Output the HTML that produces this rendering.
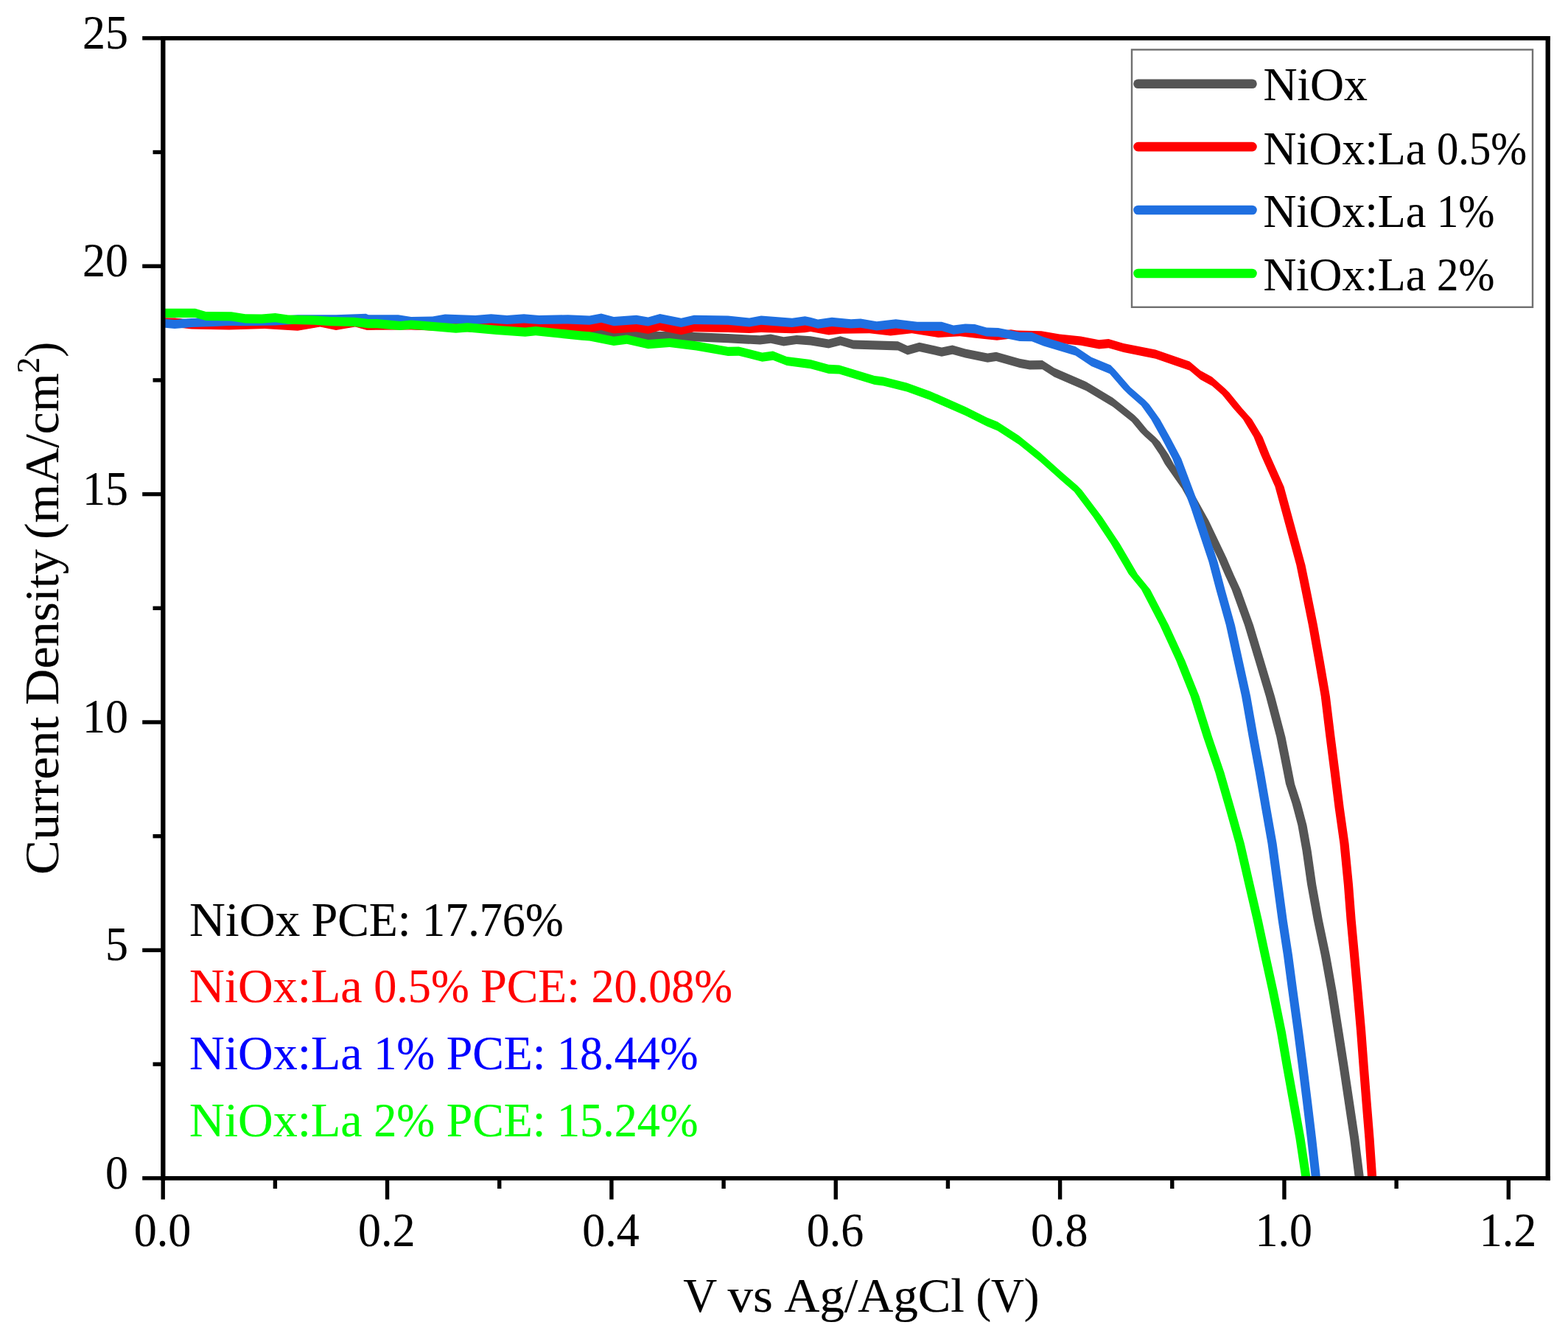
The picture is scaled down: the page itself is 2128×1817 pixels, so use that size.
<!DOCTYPE html>
<html lang="en"><head><meta charset="utf-8"><title>J-V curves</title>
<style>html,body{margin:0;padding:0;background:#fff;overflow:hidden}svg{display:block;filter:blur(0.6px)}</style></head>
<body>
<svg width="2128" height="1817" viewBox="0 0 2128 1817" style="display:block">
<rect x="0" y="0" width="2128" height="1817" fill="#ffffff"/>
<clipPath id="pc"><rect x="221.3" y="51.8" width="1879.3999999999999" height="1547.0"/></clipPath>
<g clip-path="url(#pc)" stroke="none" fill-rule="nonzero">
<path d="M215.0 431.4 L221.2 431.4 L237.5 431.5 L260.0 433.7 L311.0 434.4 L359.0 433.1 L404.0 435.7 L434.4 430.9 L456.0 434.9 L482.0 430.9 L498.0 434.9 L511.6 434.9 L558.0 434.9 L600.0 436.7 L645.0 438.4 L700.0 440.9 L800.0 445.9 L863.7 449.5 L924.5 450.2 L988.0 453.1 L1031.6 455.3 L1046.0 453.5 L1063.5 457.2 L1081.0 454.9 L1100.0 456.3 L1124.6 460.4 L1140.5 456.3 L1158.0 461.4 L1218.7 463.3 L1231.7 469.3 L1247.7 464.7 L1278.0 471.5 L1292.6 468.6 L1310.0 473.4 L1340.3 479.5 L1352.0 477.7 L1383.8 486.7 L1397.4 489.3 L1414.7 489.1 L1430.7 499.2 L1474.0 518.0 L1510.3 539.7 L1539.3 562.9 L1539.3 575.1 L1510.3 551.9 L1474.0 530.2 L1430.7 511.4 L1414.7 501.3 L1397.4 501.5 L1383.8 498.9 L1352.0 489.9 L1340.3 491.7 L1310.0 485.6 L1292.6 480.8 L1278.0 483.7 L1247.7 476.9 L1231.7 481.5 L1218.7 475.5 L1158.0 473.6 L1140.5 468.5 L1124.6 472.6 L1100.0 468.5 L1081.0 467.1 L1063.5 469.4 L1046.0 465.7 L1031.6 467.5 L988.0 465.3 L924.5 462.4 L863.7 461.7 L800.0 458.1 L700.0 453.1 L645.0 450.6 L600.0 448.9 L558.0 447.1 L511.6 447.1 L498.0 447.1 L482.0 443.1 L456.0 447.1 L434.4 443.1 L404.0 447.9 L359.0 445.3 L311.0 446.6 L260.0 445.9 L237.5 443.7 L221.2 443.6 L215.0 443.6Z M1539.3 562.9 L1545.4 569.0 L1539.3 575.1 L1533.2 569.0Z M1545.4 569.0 L1559.8 586.4 L1547.6 586.4 L1533.2 569.0Z M1553.7 580.3 L1559.8 586.4 L1553.7 592.5 L1547.6 586.4Z M1553.7 580.3 L1568.2 593.3 L1568.2 605.5 L1553.7 592.5Z M1568.2 593.3 L1574.3 599.4 L1568.2 605.5 L1562.1 599.4Z M1574.3 599.4 L1585.9 616.8 L1593.1 630.0 L1616.3 663.0 L1640.5 706.5 L1664.6 757.1 L1674.5 780.0 L1683.7 800.0 L1701.1 848.3 L1715.6 896.5 L1730.0 944.8 L1744.5 1000.0 L1750.3 1029.0 L1757.1 1063.7 L1765.8 1090.7 L1773.5 1119.7 L1779.7 1154.4 L1786.2 1200.0 L1794.9 1248.3 L1805.0 1296.5 L1813.7 1344.8 L1822.4 1400.0 L1829.9 1448.3 L1837.1 1496.5 L1844.3 1544.8 L1850.7 1596.0 L1851.9 1606.0 L1839.8 1606.0 L1838.5 1596.0 L1832.1 1544.8 L1824.9 1496.5 L1817.7 1448.3 L1810.2 1400.0 L1801.5 1344.8 L1792.8 1296.5 L1782.7 1248.3 L1774.0 1200.0 L1767.5 1154.4 L1761.3 1119.7 L1753.6 1090.7 L1744.9 1063.7 L1738.1 1029.0 L1732.3 1000.0 L1717.8 944.8 L1703.4 896.5 L1688.9 848.3 L1671.5 800.0 L1662.3 780.0 L1652.4 757.1 L1628.3 706.5 L1604.1 663.0 L1580.9 630.0 L1573.7 616.8 L1562.1 599.4Z" fill="#555555"/>
<path d="M215.0 431.5 L221.2 431.5 L237.5 431.7 L260.0 434.4 L311.0 435.2 L359.0 433.7 L404.0 436.6 L434.4 431.4 L456.0 435.9 L482.0 431.4 L498.0 435.9 L511.6 435.5 L558.0 435.2 L600.0 436.9 L645.0 438.2 L666.5 436.5 L688.0 438.2 L711.0 436.5 L731.6 438.2 L770.7 437.5 L800.0 438.8 L816.0 435.9 L833.0 440.3 L863.7 438.1 L879.6 440.7 L895.6 436.4 L924.5 442.1 L941.9 438.1 L988.0 438.8 L1017.0 439.9 L1033.0 438.8 L1075.0 440.1 L1092.5 439.1 L1100.0 437.9 L1124.6 442.3 L1143.0 440.5 L1180.0 440.1 L1208.6 443.4 L1237.5 440.1 L1273.7 445.9 L1302.7 444.0 L1324.0 446.6 L1353.0 449.5 L1372.0 447.3 L1380.0 448.5 L1413.3 449.2 L1438.0 453.6 L1466.9 456.5 L1491.5 461.3 L1504.5 460.1 L1524.8 465.9 L1568.2 474.6 L1614.5 490.5 L1629.0 502.8 L1645.0 511.5 L1662.3 526.7 L1662.3 538.9 L1645.0 523.7 L1629.0 515.0 L1614.5 502.7 L1568.2 486.8 L1524.8 478.1 L1504.5 472.3 L1491.5 473.5 L1466.9 468.7 L1438.0 465.8 L1413.3 461.4 L1380.0 460.7 L1372.0 459.5 L1353.0 461.7 L1324.0 458.8 L1302.7 456.2 L1273.7 458.1 L1237.5 452.3 L1208.6 455.6 L1180.0 452.3 L1143.0 452.7 L1124.6 454.5 L1100.0 450.1 L1092.5 451.3 L1075.0 452.3 L1033.0 451.0 L1017.0 452.1 L988.0 451.0 L941.9 450.3 L924.5 454.3 L895.6 448.6 L879.6 452.9 L863.7 450.3 L833.0 452.5 L816.0 448.1 L800.0 451.0 L770.7 449.7 L731.6 450.4 L711.0 448.7 L688.0 450.4 L666.5 448.7 L645.0 450.4 L600.0 449.1 L558.0 447.4 L511.6 447.7 L498.0 448.1 L482.0 443.6 L456.0 448.1 L434.4 443.6 L404.0 448.8 L359.0 445.9 L311.0 447.4 L260.0 446.6 L237.5 443.9 L221.2 443.7 L215.0 443.7Z M1662.3 526.7 L1668.4 532.8 L1662.3 538.9 L1656.2 532.8Z M1668.4 532.8 L1686.1 554.5 L1699.1 569.0 L1713.6 593.0 L1723.3 617.2 L1742.6 660.6 L1757.1 713.7 L1771.5 766.8 L1778.3 800.0 L1788.0 848.3 L1796.6 896.5 L1804.9 944.8 L1811.6 1000.0 L1817.8 1048.3 L1823.8 1096.5 L1830.6 1144.8 L1836.0 1200.0 L1839.7 1248.3 L1844.2 1296.5 L1848.5 1344.8 L1853.3 1400.0 L1856.9 1448.3 L1860.7 1496.5 L1864.6 1544.8 L1868.1 1596.0 L1868.8 1606.0 L1856.6 1606.0 L1855.9 1596.0 L1852.4 1544.8 L1848.5 1496.5 L1844.7 1448.3 L1841.1 1400.0 L1836.3 1344.8 L1832.0 1296.5 L1827.5 1248.3 L1823.8 1200.0 L1818.4 1144.8 L1811.6 1096.5 L1805.6 1048.3 L1799.4 1000.0 L1792.7 944.8 L1784.4 896.5 L1775.8 848.3 L1766.1 800.0 L1759.3 766.8 L1744.9 713.7 L1730.4 660.6 L1711.1 617.2 L1701.4 593.0 L1686.9 569.0 L1673.9 554.5 L1656.2 532.8Z" fill="#ff0000"/>
<path d="M215.0 432.4 L221.2 432.4 L237.0 433.9 L260.0 431.9 L290.0 430.9 L311.0 429.9 L333.0 430.1 L373.6 429.4 L404.0 427.2 L456.0 427.2 L496.7 425.8 L500.0 427.2 L540.5 427.2 L558.0 430.1 L587.0 429.4 L604.0 426.5 L645.0 427.9 L666.5 426.2 L688.0 427.9 L711.0 426.2 L731.6 427.9 L770.7 427.2 L800.0 428.5 L816.0 425.6 L833.0 430.0 L863.7 427.8 L879.6 430.4 L895.6 426.1 L924.5 431.8 L941.9 427.8 L988.0 428.5 L1017.0 431.4 L1033.0 428.5 L1075.0 431.8 L1092.5 429.2 L1100.0 430.7 L1110.0 433.6 L1129.0 430.7 L1155.0 433.3 L1168.0 432.6 L1189.8 436.2 L1215.8 433.3 L1244.8 436.8 L1278.0 436.8 L1294.0 441.5 L1310.0 439.4 L1323.0 440.1 L1339.0 444.4 L1354.8 444.9 L1383.8 450.7 L1400.3 451.1 L1416.2 457.2 L1459.6 470.2 L1481.3 484.7 L1507.4 495.6 L1507.4 507.8 L1481.3 496.9 L1459.6 482.4 L1416.2 469.4 L1400.3 463.3 L1383.8 462.9 L1354.8 457.1 L1339.0 456.6 L1323.0 452.3 L1310.0 451.6 L1294.0 453.7 L1278.0 449.0 L1244.8 449.0 L1215.8 445.5 L1189.8 448.4 L1168.0 444.8 L1155.0 445.5 L1129.0 442.9 L1110.0 445.8 L1100.0 442.9 L1092.5 441.4 L1075.0 444.0 L1033.0 440.7 L1017.0 443.6 L988.0 440.7 L941.9 440.0 L924.5 444.0 L895.6 438.3 L879.6 442.6 L863.7 440.0 L833.0 442.2 L816.0 437.8 L800.0 440.7 L770.7 439.4 L731.6 440.1 L711.0 438.4 L688.0 440.1 L666.5 438.4 L645.0 440.1 L604.0 438.7 L587.0 441.6 L558.0 442.3 L540.5 439.4 L500.0 439.4 L496.7 438.0 L456.0 439.4 L404.0 439.4 L373.6 441.6 L333.0 442.3 L311.0 442.1 L290.0 443.1 L260.0 444.1 L237.0 446.1 L221.2 444.6 L215.0 444.6Z M1507.4 495.6 L1513.5 501.7 L1507.4 507.8 L1501.3 501.7Z M1513.5 501.7 L1536.7 528.5 L1524.5 528.5 L1501.3 501.7Z M1530.6 522.4 L1536.7 528.5 L1530.6 534.6 L1524.5 528.5Z M1530.6 522.4 L1553.7 542.6 L1553.7 554.8 L1530.6 534.6Z M1553.7 542.6 L1559.8 548.7 L1553.7 554.8 L1547.6 548.7Z M1559.8 548.7 L1574.3 569.0 L1588.8 595.0 L1603.3 622.6 L1628.4 689.6 L1652.5 762.0 L1662.5 800.0 L1676.0 848.3 L1686.6 896.5 L1697.2 944.8 L1706.9 1000.0 L1715.9 1048.3 L1724.2 1096.5 L1732.7 1144.8 L1740.2 1200.0 L1746.7 1248.3 L1754.1 1296.5 L1760.5 1344.8 L1768.1 1400.0 L1774.3 1448.3 L1780.3 1496.5 L1786.1 1544.8 L1791.8 1596.0 L1792.9 1606.0 L1780.7 1606.0 L1779.6 1596.0 L1773.9 1544.8 L1768.1 1496.5 L1762.1 1448.3 L1755.9 1400.0 L1748.3 1344.8 L1741.9 1296.5 L1734.5 1248.3 L1728.0 1200.0 L1720.5 1144.8 L1712.0 1096.5 L1703.7 1048.3 L1694.7 1000.0 L1685.0 944.8 L1674.4 896.5 L1663.8 848.3 L1650.3 800.0 L1640.3 762.0 L1616.2 689.6 L1591.1 622.6 L1576.6 595.0 L1562.1 569.0 L1547.6 548.7Z" fill="#1f6fe0"/>
<path d="M215.0 418.8 L221.2 418.8 L265.0 418.8 L279.5 422.9 L314.0 423.3 L333.0 426.2 L355.0 426.5 L373.6 425.0 L391.0 427.6 L427.0 428.6 L449.0 430.1 L481.0 430.8 L499.6 433.0 L511.6 433.0 L543.0 435.9 L558.0 434.4 L618.7 439.5 L634.6 438.3 L673.7 441.7 L712.8 444.6 L727.0 443.1 L789.6 449.6 L800.0 450.2 L833.0 456.7 L850.7 454.6 L879.6 461.1 L908.6 458.9 L944.8 463.3 L988.0 470.8 L1002.7 470.5 L1034.5 478.5 L1049.0 476.6 L1067.8 483.9 L1100.0 488.1 L1124.6 494.7 L1139.0 495.4 L1186.9 509.9 L1198.8 511.4 L1230.7 519.4 L1262.5 530.9 L1310.3 551.9 L1339.3 566.4 L1353.7 572.2 L1382.7 591.0 L1411.6 614.2 L1440.6 640.3 L1462.3 659.1 L1462.3 671.3 L1440.6 652.5 L1411.6 626.4 L1382.7 603.2 L1353.7 584.4 L1339.3 578.6 L1310.3 564.1 L1262.5 543.1 L1230.7 531.6 L1198.8 523.6 L1186.9 522.1 L1139.0 507.6 L1124.6 506.9 L1100.0 500.3 L1067.8 496.1 L1049.0 488.8 L1034.5 490.7 L1002.7 482.7 L988.0 483.0 L944.8 475.5 L908.6 471.1 L879.6 473.3 L850.7 466.8 L833.0 468.9 L800.0 462.4 L789.6 461.8 L727.0 455.3 L712.8 456.8 L673.7 453.9 L634.6 450.5 L618.7 451.7 L558.0 446.6 L543.0 448.1 L511.6 445.2 L499.6 445.2 L481.0 443.0 L449.0 442.3 L427.0 440.8 L391.0 439.8 L373.6 437.2 L355.0 438.7 L333.0 438.4 L314.0 435.5 L279.5 435.1 L265.0 431.0 L221.2 431.0 L215.0 431.0Z M1462.3 659.1 L1468.4 665.2 L1462.3 671.3 L1456.2 665.2Z M1468.4 665.2 L1495.7 701.6 L1519.8 737.8 L1543.9 778.9 L1561.1 800.0 L1586.2 848.3 L1608.4 896.5 L1627.7 944.8 L1645.1 1000.0 L1661.5 1048.3 L1675.4 1096.5 L1688.9 1144.8 L1701.6 1200.0 L1712.8 1248.3 L1723.1 1296.5 L1733.7 1344.8 L1744.9 1400.0 L1753.2 1448.3 L1761.9 1496.5 L1770.6 1544.8 L1778.3 1596.0 L1779.8 1606.0 L1767.6 1606.0 L1766.1 1596.0 L1758.4 1544.8 L1749.7 1496.5 L1741.0 1448.3 L1732.7 1400.0 L1721.5 1344.8 L1710.9 1296.5 L1700.6 1248.3 L1689.4 1200.0 L1676.7 1144.8 L1663.2 1096.5 L1649.3 1048.3 L1632.9 1000.0 L1615.5 944.8 L1596.2 896.5 L1574.0 848.3 L1548.9 800.0 L1531.7 778.9 L1507.6 737.8 L1483.5 701.6 L1456.2 665.2Z" fill="#00ff00"/>
</g>
<g stroke="#000" stroke-width="5.4" fill="none" stroke-linecap="butt">
<line x1="218.15" y1="51.8" x2="2103.85" y2="51.8" stroke-width="5.7"/>
<line x1="218.15" y1="1598.8" x2="2103.85" y2="1598.8" stroke-width="5.7"/>
<line x1="221.3" y1="48.949999999999996" x2="221.3" y2="1601.6499999999999" stroke-width="6.3"/>
<line x1="2100.7" y1="48.949999999999996" x2="2100.7" y2="1601.6499999999999" stroke-width="6.3"/>
<line x1="193.2" y1="1598.80" x2="221.3" y2="1598.80"/>
<line x1="207.5" y1="1444.10" x2="221.3" y2="1444.10"/>
<line x1="193.2" y1="1289.40" x2="221.3" y2="1289.40"/>
<line x1="207.5" y1="1134.70" x2="221.3" y2="1134.70"/>
<line x1="193.2" y1="980.00" x2="221.3" y2="980.00"/>
<line x1="207.5" y1="825.30" x2="221.3" y2="825.30"/>
<line x1="193.2" y1="670.60" x2="221.3" y2="670.60"/>
<line x1="207.5" y1="515.90" x2="221.3" y2="515.90"/>
<line x1="193.2" y1="361.20" x2="221.3" y2="361.20"/>
<line x1="207.5" y1="206.50" x2="221.3" y2="206.50"/>
<line x1="193.2" y1="51.80" x2="221.3" y2="51.80"/>
<line x1="221.20" y1="1598.8" x2="221.20" y2="1627.6"/>
<line x1="373.38" y1="1598.8" x2="373.38" y2="1613.0"/>
<line x1="525.55" y1="1598.8" x2="525.55" y2="1627.6"/>
<line x1="677.73" y1="1598.8" x2="677.73" y2="1613.0"/>
<line x1="829.90" y1="1598.8" x2="829.90" y2="1627.6"/>
<line x1="982.08" y1="1598.8" x2="982.08" y2="1613.0"/>
<line x1="1134.25" y1="1598.8" x2="1134.25" y2="1627.6"/>
<line x1="1286.43" y1="1598.8" x2="1286.43" y2="1613.0"/>
<line x1="1438.60" y1="1598.8" x2="1438.60" y2="1627.6"/>
<line x1="1590.78" y1="1598.8" x2="1590.78" y2="1613.0"/>
<line x1="1742.95" y1="1598.8" x2="1742.95" y2="1627.6"/>
<line x1="1895.13" y1="1598.8" x2="1895.13" y2="1613.0"/>
<line x1="2047.30" y1="1598.8" x2="2047.30" y2="1627.6"/>
</g>
<text y="1612.70" font-family='"Liberation Serif", serif' font-size="65.84" fill="#000" stroke="#000" stroke-width="0.15"><tspan x="143.00" textLength="31.00" lengthAdjust="spacingAndGlyphs">0</tspan></text>
<text y="1303.30" font-family='"Liberation Serif", serif' font-size="65.84" fill="#000" stroke="#000" stroke-width="0.15"><tspan x="143.00" textLength="31.00" lengthAdjust="spacingAndGlyphs">5</tspan></text>
<text y="993.90" font-family='"Liberation Serif", serif' font-size="65.84" fill="#000" stroke="#000" stroke-width="0.15"><tspan x="112.00" textLength="62.00" lengthAdjust="spacingAndGlyphs">10</tspan></text>
<text y="684.50" font-family='"Liberation Serif", serif' font-size="65.84" fill="#000" stroke="#000" stroke-width="0.15"><tspan x="112.00" textLength="62.00" lengthAdjust="spacingAndGlyphs">15</tspan></text>
<text y="375.10" font-family='"Liberation Serif", serif' font-size="65.84" fill="#000" stroke="#000" stroke-width="0.15"><tspan x="112.00" textLength="62.00" lengthAdjust="spacingAndGlyphs">20</tspan></text>
<text y="65.70" font-family='"Liberation Serif", serif' font-size="65.84" fill="#000" stroke="#000" stroke-width="0.15"><tspan x="112.00" textLength="62.00" lengthAdjust="spacingAndGlyphs">25</tspan></text>
<text y="1691.20" font-family='"Liberation Serif", serif' font-size="65.84" fill="#000" stroke="#000" stroke-width="0.15"><tspan x="181.65" textLength="77.50" lengthAdjust="spacingAndGlyphs">0.0</tspan></text>
<text y="1691.20" font-family='"Liberation Serif", serif' font-size="65.84" fill="#000" stroke="#000" stroke-width="0.15"><tspan x="486.00" textLength="77.50" lengthAdjust="spacingAndGlyphs">0.2</tspan></text>
<text y="1691.20" font-family='"Liberation Serif", serif' font-size="65.84" fill="#000" stroke="#000" stroke-width="0.15"><tspan x="790.35" textLength="77.50" lengthAdjust="spacingAndGlyphs">0.4</tspan></text>
<text y="1691.20" font-family='"Liberation Serif", serif' font-size="65.84" fill="#000" stroke="#000" stroke-width="0.15"><tspan x="1094.70" textLength="77.50" lengthAdjust="spacingAndGlyphs">0.6</tspan></text>
<text y="1691.20" font-family='"Liberation Serif", serif' font-size="65.84" fill="#000" stroke="#000" stroke-width="0.15"><tspan x="1399.05" textLength="77.50" lengthAdjust="spacingAndGlyphs">0.8</tspan></text>
<text y="1691.20" font-family='"Liberation Serif", serif' font-size="65.84" fill="#000" stroke="#000" stroke-width="0.15"><tspan x="1703.40" textLength="77.50" lengthAdjust="spacingAndGlyphs">1.0</tspan></text>
<text y="1691.20" font-family='"Liberation Serif", serif' font-size="65.84" fill="#000" stroke="#000" stroke-width="0.15"><tspan x="2007.75" textLength="77.50" lengthAdjust="spacingAndGlyphs">1.2</tspan></text>
<text y="1780.00" font-family='"Liberation Serif", serif' font-size="65.84" fill="#000" stroke="#000" stroke-width="0.15"><tspan x="927.20" textLength="44.76" lengthAdjust="spacingAndGlyphs">V</tspan> <tspan x="987.46" textLength="61.32" lengthAdjust="spacingAndGlyphs">vs</tspan> <tspan x="1064.28" textLength="244.65" lengthAdjust="spacingAndGlyphs">Ag/AgCl</tspan> <tspan x="1324.43" textLength="86.06" lengthAdjust="spacingAndGlyphs">(V)</tspan></text>
<text transform="translate(78.8,1187.0) rotate(-90)" font-family='"Liberation Serif", serif' font-size="65.84" fill="#000" stroke="#000" stroke-width="0.15"><tspan x="0.00" y="0" textLength="214.92" lengthAdjust="spacingAndGlyphs">Current</tspan> <tspan x="230.32" y="0" textLength="211.41" lengthAdjust="spacingAndGlyphs">Density</tspan> <tspan x="454.93" y="0" textLength="225.66" lengthAdjust="spacingAndGlyphs">(mA/cm</tspan><tspan x="680.59" y="-25.6" font-size="45.23" textLength="21.54" lengthAdjust="spacingAndGlyphs">2</tspan><tspan x="702.13" y="0" textLength="20.88" lengthAdjust="spacingAndGlyphs">)</tspan></text>
<rect x="1536" y="67.4" width="544" height="349.4" fill="#fff" stroke="#707070" stroke-width="2.4"/>
<line x1="1544.5" y1="113.7" x2="1699.5" y2="113.7" stroke="#555555" stroke-width="12.6" stroke-linecap="round"/>
<text y="136.00" font-family='"Liberation Serif", serif' font-size="63.66" fill="#000" stroke="#000" stroke-width="0.15"><tspan x="1714.40" textLength="141.56" lengthAdjust="spacingAndGlyphs">NiOx</tspan></text>
<line x1="1544.5" y1="199.1" x2="1699.5" y2="199.1" stroke="#ff0000" stroke-width="12.6" stroke-linecap="round"/>
<text y="222.90" font-family='"Liberation Serif", serif' font-size="63.66" fill="#000" stroke="#000" stroke-width="0.15"><tspan x="1714.40" textLength="221.04" lengthAdjust="spacingAndGlyphs">NiOx:La</tspan> <tspan x="1950.04" textLength="122.06" lengthAdjust="spacingAndGlyphs">0.5%</tspan></text>
<line x1="1544.5" y1="285.0" x2="1699.5" y2="285.0" stroke="#1f6fe0" stroke-width="12.6" stroke-linecap="round"/>
<text y="308.20" font-family='"Liberation Serif", serif' font-size="63.66" fill="#000" stroke="#000" stroke-width="0.15"><tspan x="1714.40" textLength="221.04" lengthAdjust="spacingAndGlyphs">NiOx:La</tspan> <tspan x="1950.04" textLength="78.26" lengthAdjust="spacingAndGlyphs">1%</tspan></text>
<line x1="1544.5" y1="371.0" x2="1699.5" y2="371.0" stroke="#00ff00" stroke-width="12.6" stroke-linecap="round"/>
<text y="393.60" font-family='"Liberation Serif", serif' font-size="63.66" fill="#000" stroke="#000" stroke-width="0.15"><tspan x="1714.40" textLength="221.04" lengthAdjust="spacingAndGlyphs">NiOx:La</tspan> <tspan x="1950.04" textLength="78.26" lengthAdjust="spacingAndGlyphs">2%</tspan></text>
<text y="1269.50" font-family='"Liberation Serif", serif' font-size="65.84" fill="#000000" stroke="#000000" stroke-width="0.15"><tspan x="257.00" textLength="150.29" lengthAdjust="spacingAndGlyphs">NiOx</tspan> <tspan x="422.79" textLength="134.79" lengthAdjust="spacingAndGlyphs">PCE:</tspan> <tspan x="573.08" textLength="191.58" lengthAdjust="spacingAndGlyphs">17.76%</tspan></text>
<text y="1360.30" font-family='"Liberation Serif", serif' font-size="65.84" fill="#ff0000" stroke="#ff0000" stroke-width="0.15"><tspan x="257.00" textLength="234.67" lengthAdjust="spacingAndGlyphs">NiOx:La</tspan> <tspan x="507.17" textLength="129.58" lengthAdjust="spacingAndGlyphs">0.5%</tspan> <tspan x="652.25" textLength="134.79" lengthAdjust="spacingAndGlyphs">PCE:</tspan> <tspan x="802.54" textLength="191.58" lengthAdjust="spacingAndGlyphs">20.08%</tspan></text>
<text y="1451.30" font-family='"Liberation Serif", serif' font-size="65.84" fill="#0000ff" stroke="#0000ff" stroke-width="0.15"><tspan x="257.00" textLength="234.67" lengthAdjust="spacingAndGlyphs">NiOx:La</tspan> <tspan x="507.17" textLength="83.08" lengthAdjust="spacingAndGlyphs">1%</tspan> <tspan x="605.75" textLength="134.79" lengthAdjust="spacingAndGlyphs">PCE:</tspan> <tspan x="756.04" textLength="191.58" lengthAdjust="spacingAndGlyphs">18.44%</tspan></text>
<text y="1542.20" font-family='"Liberation Serif", serif' font-size="65.84" fill="#00ff00" stroke="#00ff00" stroke-width="0.15"><tspan x="257.00" textLength="234.67" lengthAdjust="spacingAndGlyphs">NiOx:La</tspan> <tspan x="507.17" textLength="83.08" lengthAdjust="spacingAndGlyphs">2%</tspan> <tspan x="605.75" textLength="134.79" lengthAdjust="spacingAndGlyphs">PCE:</tspan> <tspan x="756.04" textLength="191.58" lengthAdjust="spacingAndGlyphs">15.24%</tspan></text>
</svg>
</body></html>
